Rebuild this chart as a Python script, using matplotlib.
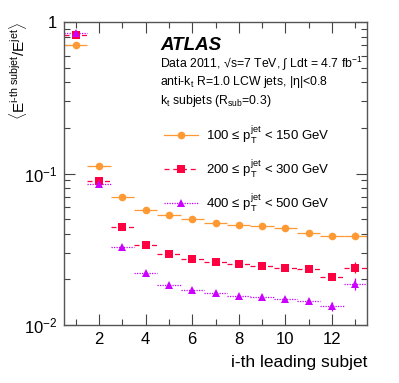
import matplotlib
matplotlib.use('Agg')
import matplotlib.pyplot as plt
from matplotlib.lines import Line2D
from matplotlib.ticker import FixedLocator, NullFormatter
import numpy as np

plt.rcParams['font.family'] = ['Liberation Sans', 'DejaVu Sans']
plt.rcParams['mathtext.fontset'] = 'custom'
plt.rcParams['mathtext.rm'] = 'Liberation Sans'
plt.rcParams['mathtext.it'] = 'Liberation Sans:italic'
plt.rcParams['mathtext.bf'] = 'Liberation Sans:bold'

# subjet index
subjet = np.arange(1, 14)

# mean energy fraction of i-th subjet, three pT bins
frac_100_150 = [0.705, 0.112, 0.0697, 0.0577, 0.053, 0.0499, 0.0473,
                0.0459, 0.0448, 0.0435, 0.0403, 0.0389, 0.0389]
frac_200_300 = [0.817, 0.0892, 0.0441, 0.0336, 0.0296, 0.0273, 0.0259,
                0.0251, 0.0245, 0.0239, 0.0235, 0.0207, 0.0239]
frac_400_500 = [0.850, 0.0849, 0.0327, 0.0221, 0.0184, 0.0170, 0.0162,
                0.0156, 0.0154, 0.0149, 0.0143, 0.0133, 0.0187]

err_100_150 = [0.005, 0.002, 0.001, 0.001, 0.001, 0.001, 0.001,
               0.001, 0.001, 0.001, 0.001, 0.0012, 0.002]
err_200_300 = [0.008, 0.002, 0.001, 0.0008, 0.0006, 0.0006, 0.0006,
               0.0006, 0.0006, 0.0007, 0.0007, 0.001, 0.002]
err_400_500 = [0.01, 0.003, 0.001, 0.0006, 0.0005, 0.0005, 0.0005,
               0.0005, 0.0005, 0.0005, 0.0006, 0.0009, 0.0018]

labels = [r'100 ≤ p$_{\mathrm{T}}^{\mathrm{jet}}$ < 150 GeV',
          r'200 ≤ p$_{\mathrm{T}}^{\mathrm{jet}}$ < 300 GeV',
          r'400 ≤ p$_{\mathrm{T}}^{\mathrm{jet}}$ < 500 GeV']

orange = '#ff9933'
red = '#ff0040'
purple = '#cc00ff'

W, H = 399, 383
fig = plt.figure(figsize=(W / 100, H / 100), dpi=100)
ax = fig.add_axes([64 / W, 1 - 325 / H, (367 - 64) / W, (325 - 22) / H])

series = [
    (frac_100_150, err_100_150, orange, 'o', '-', 5.5),
    (frac_200_300, err_200_300, red, 's', (0, (4, 3)), 5.5),
    (frac_400_500, err_400_500, purple, '^', (0, (1, 1)), 5.5),
]
handles = []
for (vals, errs, col, mk, ls, ms), lab in zip(series, labels):
    eb = ax.errorbar(subjet, vals, xerr=0.5, yerr=errs, fmt=mk, color=col,
                     ms=ms, mew=0, elinewidth=0.9, capsize=0)
    eb[2][0].set_linestyle(ls)
    handles.append(Line2D([], [], color=col, marker=mk, ms=ms, mew=0,
                          ls=ls, lw=0.9, label=lab))

ax.set_yscale('log')
ax.set_xlim(0.5, 13.5)
ax.set_ylim(0.01, 1)

ax.xaxis.set_major_locator(FixedLocator([2, 4, 6, 8, 10, 12]))
ax.xaxis.set_minor_locator(FixedLocator([1, 3, 5, 7, 9, 11, 13]))
ax.set_yticks([0.01, 0.1, 1])
ax.set_yticklabels([r'10$^{-2}$', r'10$^{-1}$', '1'])
ax.yaxis.set_minor_formatter(NullFormatter())
ax.tick_params(which='both', direction='in', top=True, right=True,
               labelsize=12, color='#444444')
ax.tick_params(which='major', length=8, width=0.8, pad=5)
ax.tick_params(which='minor', length=4, width=0.8)
for sp in ax.spines.values():
    sp.set_color('#555555')
    sp.set_linewidth(1.0)

ax.set_xlabel('i-th leading subjet', fontsize=12.5, loc='right', labelpad=6)
ax.set_ylabel(r'$\langle\mathrm{E^{\text{i-th subjet}}/E^{jet}}\rangle$',
              fontsize=11, loc='top')
ax.yaxis.set_label_coords(-0.115, 1.0)

fig.text(160 / W, 1 - 45 / H, 'ATLAS', fontsize=13.5, fontweight='bold',
         fontstyle='italic', va='center')
fig.text(160 / W, 1 - 63 / H,
         'Data 2011, √s=7 TeV, ∫ Ldt = 4.7 fb$^{-1}$',
         fontsize=8.8, va='center')
fig.text(160 / W, 1 - 82 / H,
         r'anti-k$_{\mathrm{t}}$ R=1.0 LCW jets, |η|<0.8',
         fontsize=8.8, va='center')
fig.text(160 / W, 1 - 101 / H,
         r'k$_{\mathrm{t}}$ subjets (R$_{\mathrm{sub}}$=0.3)',
         fontsize=8.8, va='center')

fig.legend(handles=handles, loc='upper left',
           bbox_to_anchor=(164 / W, 1 - 124 / H), frameon=False,
           fontsize=9.5, handlelength=2.6, labelspacing=0.95,
           handletextpad=0.6, borderaxespad=0, borderpad=0)

fig.savefig('out.png', dpi=100)
